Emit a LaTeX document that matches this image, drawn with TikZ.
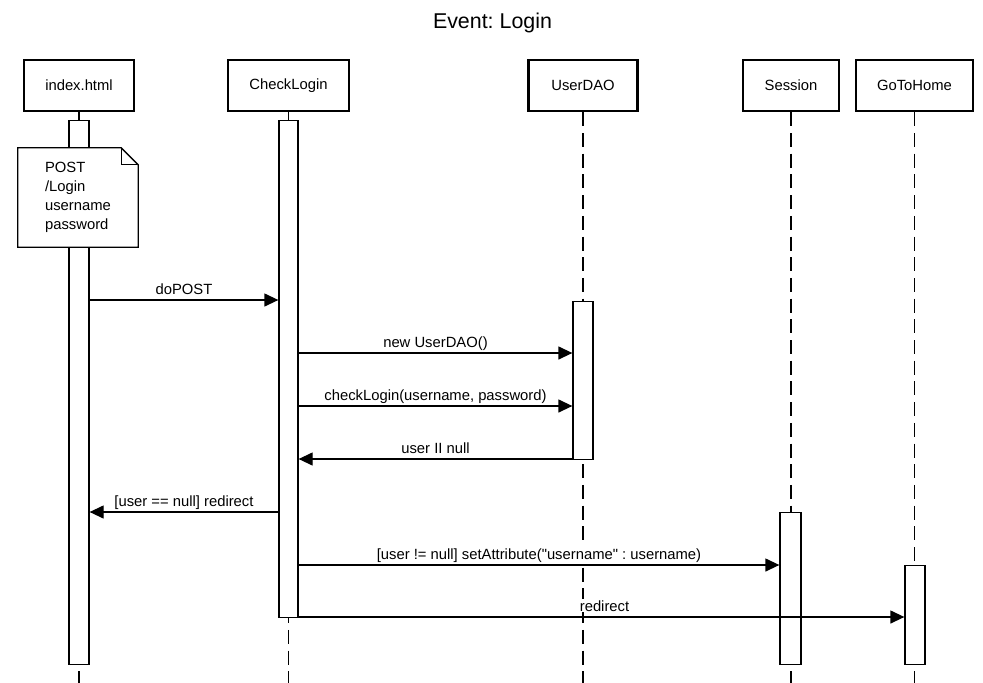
\documentclass[tikz,border=0pt]{standalone}
\usepackage{fontspec}
\setmainfont{Liberation Sans}
\usetikzlibrary{arrows.meta}
\newcommand{\lblfont}{\fontsize{14.8}{19}\selectfont}
\frenchspacing
\begin{document}
\begin{tikzpicture}[x=1pt,y=-1pt,
  head/.style={draw, line width=2.6pt, fill=white, inner sep=0pt, font=\lblfont, minimum height=51pt},
  actbar/.style={draw, line width=1.3pt, fill=white, minimum width=20pt, inner sep=0pt, anchor=north},
  life/.style={line width=1.3pt, dash pattern=on 14pt off 6.7pt},
  msg/.style={line width=1.3pt, -{Triangle[length=14pt,width=13pt]}},
  lbl/.style={fill=white, inner sep=1pt, font=\lblfont, anchor=base, yshift=6pt, midway}
]
\useasboundingbox (0,0) rectangle (983,683);

% title
\node[font=\fontsize{21.4}{26}\selectfont, anchor=base] (title) at (492.5,28) {Event: Login};

% header boxes
\node[head, minimum width=110pt] (idx)  at (79,85.5)    {index.html};
\node[head, minimum width=121pt] (chk)  at (288.5,85.5) {CheckLogin};
\node[head, minimum width=109pt] (dao)  at (583,85.5)   {UserDAO};
\node[head, minimum width=96pt]  (ses)  at (791,85.5)   {Session};
\node[head, minimum width=117pt] (home) at (914.5,85.5) {GoToHome};

% lifelines
\draw[life] (idx.south)  -- (idx.south |- 0,683);
\draw[life] (chk.south)  -- (chk.south |- 0,683);
\draw[life] (dao.south)  -- (dao.south |- 0,683);
\draw[life] (ses.south)  -- (ses.south |- 0,683);
\draw[life] (home.south) -- (home.south |- 0,683);

% activation bars
\node[actbar, minimum height=544pt] (idxbar) at (79,120) {};
\node[actbar, minimum width=19pt, minimum height=497pt] (chkbar) at (288.5,120) {};
\node[actbar, minimum height=158pt] (daobar) at (583,301) {};
\node[actbar, minimum width=21pt, minimum height=152pt] (sesbar) at (790.5,512) {};
\node[actbar, minimum height=99pt] (homebar) at (915,565) {};

% note
\node[minimum width=120pt, minimum height=99pt, inner sep=0pt] (note) at (78,197.5) {};
\draw[line width=1.3pt, fill=white, line join=miter]
  (note.north west) -- ([xshift=-17pt]note.north east) -- ([yshift=-17pt]note.north east)
  -- (note.south east) -- (note.south west) -- cycle;
\draw[line width=1.3pt] ([xshift=-17pt]note.north east) -- ([xshift=-17pt,yshift=-17pt]note.north east)
  -- ([yshift=-17pt]note.north east);
\node[font=\lblfont, align=left, inner sep=0pt] (notetext) at (note.center) {POST\\/Login\\username\\password};

% messages
\draw[msg] (idxbar.east |- 0,300) -- (chkbar.west |- 0,300) node[lbl] {doPOST};
\draw[msg] (chkbar.east |- 0,353) -- (daobar.west |- 0,353) node[lbl] {new UserDAO()};
\draw[msg] (chkbar.east |- 0,406) -- (daobar.west |- 0,406) node[lbl] {checkLogin(username, password)};
\draw[msg] (daobar.west |- 0,459) -- (chkbar.east |- 0,459) node[lbl] {user II null};
\draw[msg] (chkbar.west |- 0,512) -- (idxbar.east |- 0,512) node[lbl] {[user == null] redirect};
\draw[msg] (chkbar.east |- 0,565) -- (sesbar.west |- 0,565) node[lbl] {[user != null] setAttribute(\textquotedbl username\textquotedbl{} : username)};
\draw[msg] (chkbar.east |- 0,617) -- (homebar.west |- 0,617) node[lbl, pos=0.505] {redirect};
\end{tikzpicture}
\end{document}
